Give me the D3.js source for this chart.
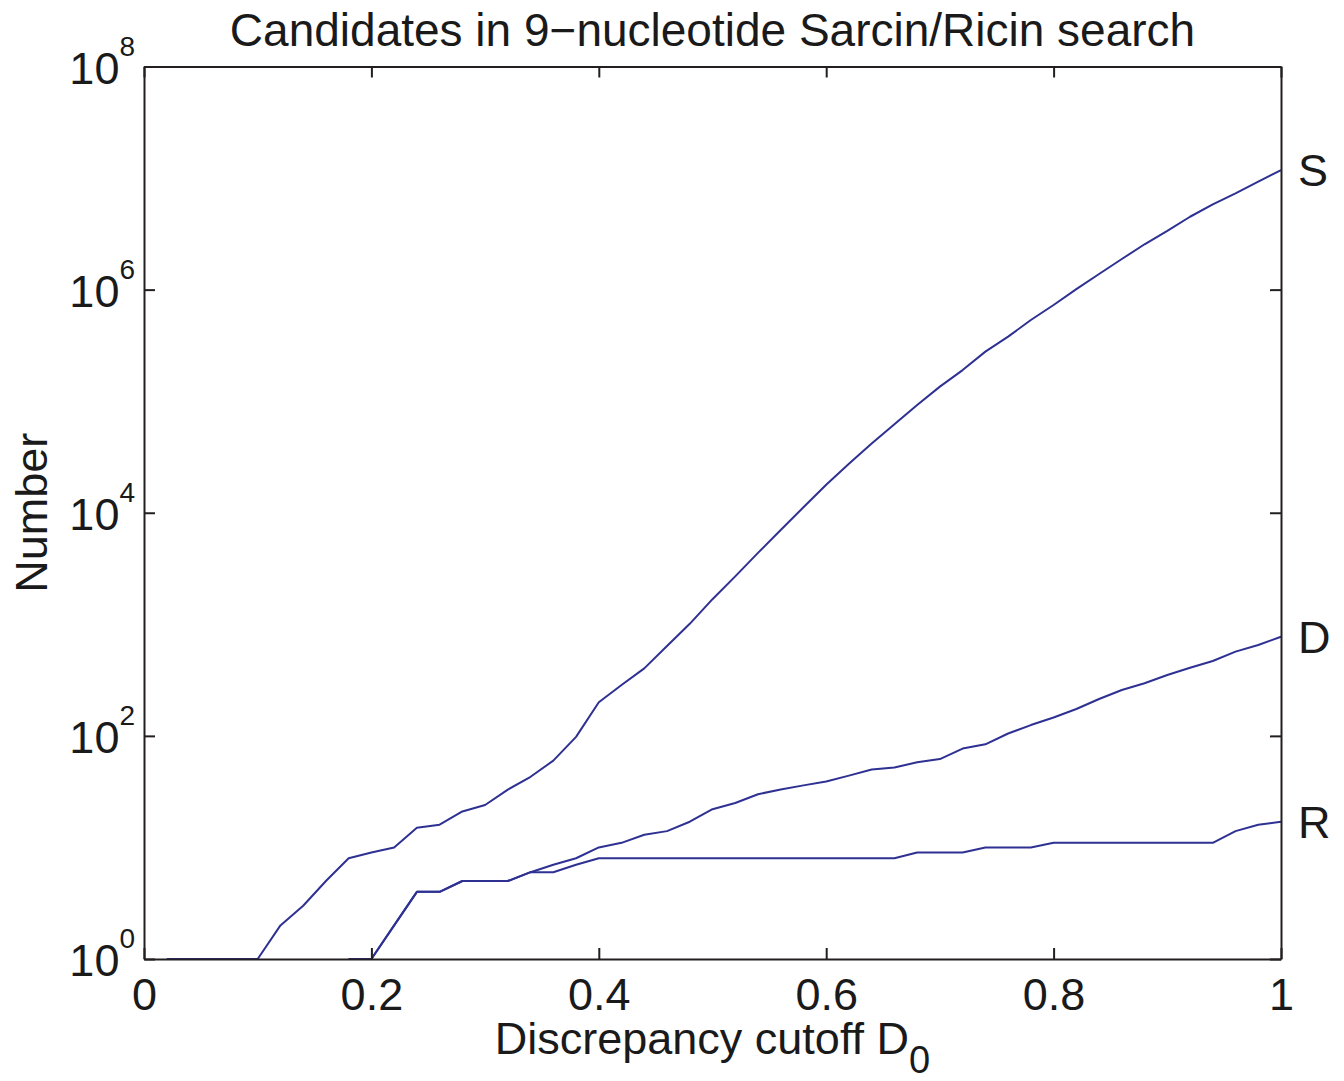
<!DOCTYPE html>
<html>
<head>
<meta charset="utf-8">
<script src="https://cdn.jsdelivr.net/npm/d3@7"></script>
<style>
  html, body { margin: 0; padding: 0; background: #ffffff; }
  svg text { font-family: "Liberation Sans", Arial, Helvetica, sans-serif; fill: #1a1a1a; }
</style>
</head>
<body>
<script>
// ---- data ----
const cutoffs = [0.02,0.04,0.06,0.08,0.10,0.12,0.14,0.16,0.18,0.20,
                 0.22,0.24,0.26,0.28,0.30,0.32,0.34,0.36,0.38,0.40,
                 0.42,0.44,0.46,0.48,0.50,0.52,0.54,0.56,0.58,0.60,
                 0.62,0.64,0.66,0.68,0.70,0.72,0.74,0.76,0.78,0.80,
                 0.82,0.84,0.86,0.88,0.90,0.92,0.94,0.96,0.98,1.00];

const seriesS = [1,1,1,1,1,2,3,5,8,9,
                 10,15,16,21,24,33,43,60,98,200,
                 286,403,640,1010,1680,2690,4370,7000,11200,17800,
                 27500,41700,62100,92500,135000,190000,278000,379000,534000,728000,
                 1010000,1380000,1880000,2550000,3360000,4500000,5820000,7300000,9300000,11800000];

const seriesD = [null,null,null,null,null,null,null,null,1,1,
                 2,4,4,5,5,5,6,7,8,10,
                 11,13,14,17,22,25,30,33,36,39,
                 44,50,52,58,62,77,84,105,125,146,
                 174,214,258,296,351,408,469,569,653,774];

const seriesR = [null,null,null,null,null,null,null,null,1,1,
                 2,4,4,5,5,5,6,6,7,8,
                 8,8,8,8,8,8,8,8,8,8,
                 8,8,8,9,9,9,10,10,10,11,
                 11,11,11,11,11,11,11,14,16,17];

const seriesNames = ["S", "D", "R"];
const xTicks = [0, 0.2, 0.4, 0.6, 0.8, 1];
const xTickLabels = ["0", "0.2", "0.4", "0.6", "0.8", "1"];
const yTicks = [1, 1e2, 1e4, 1e6, 1e8];
const yTickExponents = ["0", "2", "4", "6", "8"];

const titleText = "Candidates in 9\u2212nucleotide Sarcin/Ricin search";
const xLabelText = "Discrepancy cutoff D";
const xLabelSub = "0";
const yLabelText = "Number";

// ---- layout ----
const W = 1344, H = 1081;
const pLeft = 144, pRight = 1281, pTop = 66.5, pBottom = 959;
const lineColor = "#2e3192";
const axisColor = "#231f20";
const fs = 45;

const svg = d3.select("body").append("svg")
  .attr("width", W).attr("height", H);
svg.append("rect").attr("width", W).attr("height", H).attr("fill", "#ffffff");

const x = d3.scaleLinear().domain([0, 1]).range([pLeft, pRight]);
const y = d3.scaleLog().domain([1, 1e8]).range([pBottom, pTop]);

// ---- lines ----
const allSeries = [seriesS, seriesD, seriesR];
const line = d3.line()
  .defined(d => d.v !== null)
  .x(d => x(d.c))
  .y(d => y(d.v));

allSeries.forEach((s, k) => {
  const pts = cutoffs.map((c, i) => ({ c: c, v: s[i] }));
  svg.append("path")
    .datum(pts)
    .attr("d", line)
    .attr("fill", "none")
    .attr("stroke", lineColor)
    .attr("stroke-width", 2)
    .attr("stroke-linejoin", "round");
  const last = s[s.length - 1];
  svg.append("text")
    .attr("x", x(1) + 17)
    .attr("y", y(last) + 16)
    .attr("font-size", fs)
    .text(seriesNames[k]);
});

// ---- axes ----
function styleAxis(g) {
  g.select(".domain").attr("stroke", axisColor).attr("stroke-width", 2);
  g.selectAll(".tick line").attr("stroke", axisColor).attr("stroke-width", 2);
}

const gBottom = svg.append("g").attr("transform", `translate(0,${pBottom})`)
  .call(d3.axisBottom(x).tickValues(xTicks).tickSize(-11).tickSizeOuter(0)
        .tickFormat((d, i) => xTickLabels[i]));
styleAxis(gBottom);
gBottom.selectAll(".tick text")
  .attr("y", 51).attr("dy", null)
  .attr("font-size", fs)
  .attr("fill", "#1a1a1a")
  .style("font-family", '"Liberation Sans", Arial, sans-serif');

const gTop = svg.append("g").attr("transform", `translate(0,${pTop})`)
  .call(d3.axisTop(x).tickValues(xTicks).tickSize(-11).tickSizeOuter(0).tickFormat(""));
styleAxis(gTop);

const gLeft = svg.append("g").attr("transform", `translate(${pLeft},0)`)
  .call(d3.axisLeft(y).tickValues(yTicks).tickSize(-11).tickSizeOuter(0).tickFormat(""));
styleAxis(gLeft);
gLeft.selectAll(".tick").each(function(d, i) {
  const t = d3.select(this).select("text");
  t.attr("x", -9).attr("y", 16.5).attr("dy", null)
    .attr("text-anchor", "end")
    .attr("fill", "#1a1a1a")
    .style("font-family", '"Liberation Sans", Arial, sans-serif')
    .attr("font-size", fs);
  t.append("tspan").text("10");
  t.append("tspan").attr("dy", -28).attr("font-size", 28).text(yTickExponents[i]);
});

const gRight = svg.append("g").attr("transform", `translate(${pRight},0)`)
  .call(d3.axisRight(y).tickValues(yTicks).tickSize(-11).tickSizeOuter(0).tickFormat(""));
styleAxis(gRight);

// ---- titles ----
svg.append("text")
  .attr("x", (pLeft + pRight) / 2).attr("y", 46)
  .attr("text-anchor", "middle")
  .attr("font-size", 46)
  .text(titleText);

const xl = svg.append("text")
  .attr("x", (pLeft + pRight) / 2).attr("y", 1054)
  .attr("text-anchor", "middle")
  .attr("font-size", fs);
xl.append("tspan").text(xLabelText);
xl.append("tspan").attr("dy", 19).attr("font-size", 38).text(xLabelSub);

svg.append("text")
  .attr("transform", `translate(47,${(pTop + pBottom) / 2}) rotate(-90)`)
  .attr("text-anchor", "middle")
  .attr("font-size", fs)
  .text(yLabelText);
</script>
</body>
</html>
